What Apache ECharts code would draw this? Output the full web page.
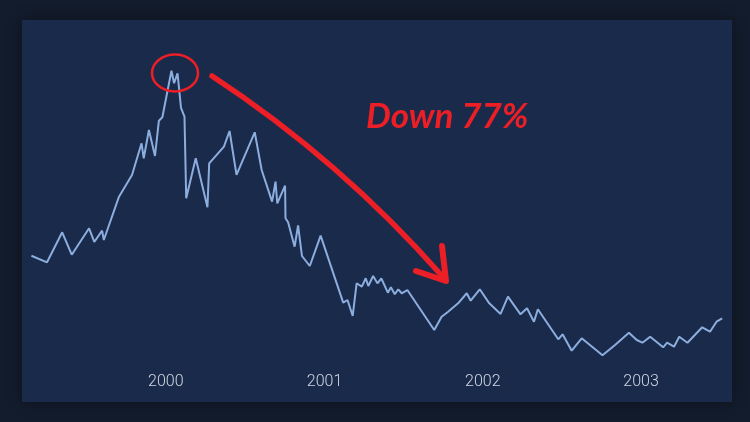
<!DOCTYPE html>
<html>
<head>
<meta charset="utf-8">
<script src="https://cdn.jsdelivr.net/npm/echarts@6/dist/echarts.min.js"></script>
<style>
  html, body { margin: 0; padding: 0; background: #131c2c; }
  #chart { width: 750px; height: 422px; }
</style>
</head>
<body>
<div id="chart"></div>
<script>
// index level, roughly Nasdaq scale
const dates = ['1999-02-25','1999-04-02','1999-05-07','1999-05-29','1999-07-08','1999-07-20','1999-08-07','1999-08-11','1999-09-15','1999-10-15','1999-11-06','1999-11-11','1999-11-23','1999-12-07','1999-12-16','1999-12-24',
  '2000-01-14','2000-01-20','2000-01-28','2000-02-05','2000-02-13','2000-02-17','2000-03-10','2000-04-06','2000-04-10','2000-05-14','2000-05-27','2000-06-12','2000-07-24','2000-08-09','2000-09-02','2000-09-10','2000-09-14','2000-10-02','2000-10-03','2000-10-09','2000-10-24','2000-11-01','2000-11-10','2000-11-28','2000-12-23',
  '2001-02-13','2001-02-23','2001-03-07','2001-03-16','2001-03-28','2001-04-06','2001-04-12','2001-04-23','2001-05-03','2001-05-12','2001-05-27','2001-06-03','2001-06-12','2001-06-20','2001-06-28','2001-07-11','2001-09-11','2001-09-28','2001-10-13','2001-11-05','2001-11-25','2001-12-04','2001-12-25',
  '2002-01-16','2002-02-11','2002-02-28','2002-03-29','2002-04-13','2002-04-29','2002-05-08','2002-06-24','2002-07-04','2002-07-25','2002-08-17','2002-10-04','2002-11-02','2002-12-04','2002-12-22',
  '2003-01-04','2003-01-22','2003-02-21','2003-03-02','2003-03-18','2003-03-30','2003-04-18','2003-05-22','2003-06-09','2003-06-24','2003-07-07']
const values = [2491,2400,2815,2505,2870,2681,2837,2708,3307,3607,4045,3837,4228,3869,4357,4404,
  5048,4874,5012,4533,4415,3285,3837,3160,3768,3998,4215,3607,4197,3676,3238,3514,3215,3459,3008,2953,2616,2909,2487,2349,2768,
  1842,1879,1658,2110,2063,2179,2073,2211,2110,2179,1980,2055,1958,2027,1972,2017,1464,1648,1717,1833,1972,1869,2027,
  1833,1686,1925,1681,1764,1579,1751,1336,1405,1178,1350,1115,1257,1427,1326,
  1289,1372,1225,1289,1234,1372,1289,1502,1441,1579,1626]
const yearLabels = ['2000', '2001', '2002', '2003']
const note = 'Down 77%'

const red = '#ec1f26'
let myChart = echarts.init(document.getElementById('chart'))

myChart.setOption({
  backgroundColor: '#131c2c',
  animation: false,
  grid: { left: 21, right: 17, top: 38, bottom: 58.4 },
  xAxis: {
    type: 'time',
    min: '1999-02-01',
    max: '2003-08-01',
    minInterval: 365 * 86400000,
    maxInterval: 366 * 86400000,
    axisLine: { show: false },
    axisTick: { show: false },
    splitLine: { show: false },
    axisLabel: {
      color: '#d0d6e3',
      fontSize: 16,
      fontFamily: 'Roboto',
      fontWeight: 300,
      margin: 10,
      formatter: function (v) {
        let d = new Date(v)
        let y = String(d.getFullYear())
        return (d.getMonth() === 0 && d.getDate() === 1 && yearLabels.includes(y)) ? y : ''
      }
    }
  },
  yAxis: {
    type: 'value',
    min: 1000,
    max: 5500,
    show: false
  },
  series: [{
    type: 'line',
    data: dates.map((d, i) => [d, values[i]]),
    showSymbol: false,
    lineStyle: { color: '#8caede', width: 2 },
    z: 5
  }],
  graphic: [
    {
      type: 'rect', z: -10, silent: true,
      shape: { x: 22, y: 20, width: 710, height: 382 },
      style: { fill: '#1a2a4b', shadowBlur: 14, shadowColor: 'rgba(0,0,0,0.35)' }
    },
    {
      type: 'ellipse', z: 100, silent: true,
      shape: { cx: 175, cy: 73, rx: 23, ry: 18.5 },
      style: { fill: null, stroke: red, lineWidth: 2.5 }
    },
    {
      type: 'bezierCurve', z: 100, silent: true,
      shape: { x1: 212, y1: 76, cpx1: 340, cpy1: 160, x2: 443, y2: 277 },
      style: { fill: null, stroke: red, lineWidth: 5.5, lineCap: 'round' }
    },
    {
      type: 'polyline', z: 100, silent: true,
      shape: { points: [[442, 246], [446, 281], [416, 271]] },
      style: { fill: null, stroke: red, lineWidth: 6, lineCap: 'round', lineJoin: 'round' }
    },
    {
      type: 'text', z: 100, silent: true,
      style: {
        text: note, x: 366, y: 117,
        verticalAlign: 'middle',
        fill: red,
        fontSize: 35, fontWeight: 'bold', fontStyle: 'italic',
        fontFamily: 'Lato'
      }
    }
  ]
})
</script>
</body>
</html>
